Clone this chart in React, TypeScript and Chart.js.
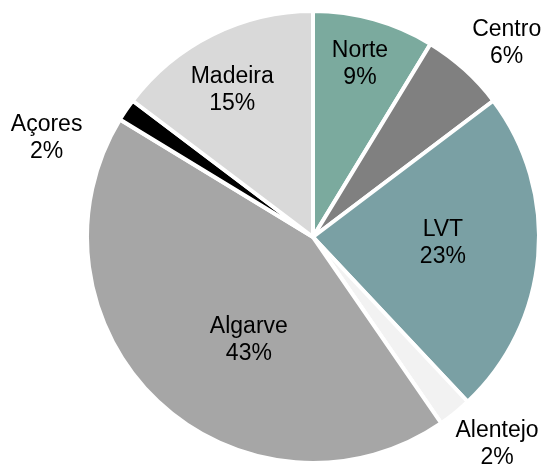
import React, { useEffect, useRef } from 'react';
import { Chart, registerables } from 'chart.js';

Chart.register(...registerables);

const regions = ['Norte', 'Centro', 'LVT', 'Alentejo', 'Algarve', 'Açores', 'Madeira'];
const shares = [8.7, 6.0, 23.3, 2.4, 43.3, 1.6, 14.7];
const sliceColors = ['#7BAA9E', '#808080', '#7AA0A4', '#F2F2F2', '#A6A6A6', '#000000', '#D9D9D9'];
// label placement per slice: [angle shift from mid-angle in degrees, distance as fraction of radius]
const labelPlacement: [number, number][] = [
  [-0.6, 0.8],
  [2.5, 1.22],
  [-3, 0.575],
  [-3, 1.22],
  [-11, 0.53],
  [-13.5, 1.26],
  [-2, 0.75],
];

const FONT = '23px "Liberation Sans", Arial, sans-serif';
const LINE_H = 27;

const labelPlugin = {
  id: 'sliceLabels',
  afterDatasetsDraw(chart: any) {
    const ctx = chart.ctx;
    const meta = chart.getDatasetMeta(0);
    const data = chart.data.datasets[0].data as number[];
    const total = data.reduce((a, b) => a + b, 0);
    ctx.save();
    ctx.font = FONT;
    ctx.fillStyle = '#000';
    ctx.textAlign = 'center';
    ctx.textBaseline = 'middle';
    meta.data.forEach((arc: any, i: number) => {
      const p = arc.getProps(['x', 'y', 'startAngle', 'endAngle', 'outerRadius'], true);
      const [shift, frac] = labelPlacement[i];
      const mid = (p.startAngle + p.endAngle) / 2 + (shift * Math.PI) / 180;
      const r = p.outerRadius * frac;
      const cx = p.x + Math.cos(mid) * r;
      const cy = p.y + Math.sin(mid) * r + 2;
      const pct = Math.round((data[i] / total) * 100) + '%';
      ctx.fillText(chart.data.labels[i], cx, cy - LINE_H / 2);
      ctx.fillText(pct, cx, cy + LINE_H / 2);
    });
    ctx.restore();
  },
};

export default function App() {
  const canvasRef = useRef<HTMLCanvasElement | null>(null);

  useEffect(() => {
    const canvas = canvasRef.current;
    if (!canvas) return;
    const chart = new Chart(canvas, {
      type: 'pie',
      data: {
        labels: regions,
        datasets: [
          {
            data: shares,
            backgroundColor: sliceColors,
            borderColor: '#FFFFFF',
            borderWidth: 4,
          },
        ],
      },
      options: {
        responsive: false,
        animation: false,
        radius: 226,
        layout: { padding: { left: 87, right: 6, top: 11, bottom: 4 } },
        plugins: {
          legend: { display: false },
          tooltip: { enabled: false },
          title: { display: false },
        },
      } as any,
      plugins: [labelPlugin],
    });
    return () => chart.destroy();
  }, []);

  return (
    <div style={{ position: 'absolute', left: 0, top: 0, width: 545, height: 467, background: '#fff' }}>
      <canvas ref={canvasRef} width={545} height={467} style={{ display: 'block', width: 545, height: 467 }} />
    </div>
  );
}
